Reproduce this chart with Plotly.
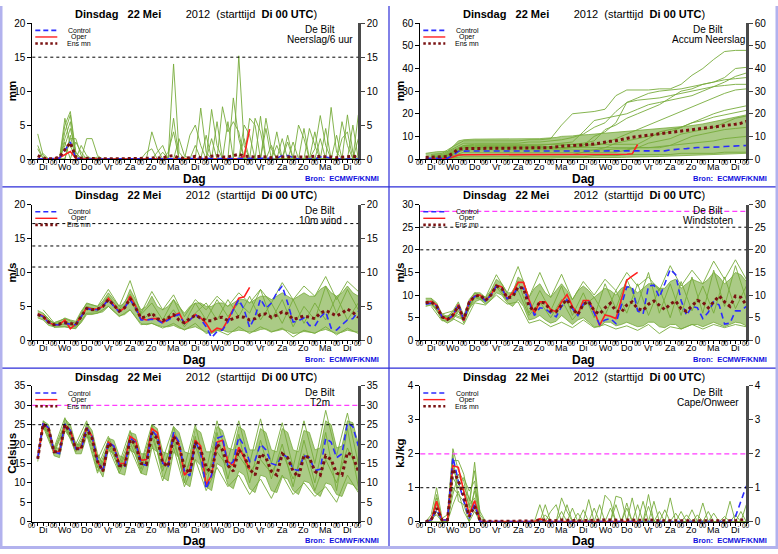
import plotly.graph_objects as go

W, H = 778, 554

# ---------------- time axis ----------------
HOURS = list(range(6, 361, 6))          # 6-hourly valid times (hours after start)
HOURS12 = list(range(12, 361, 12))      # 12-hourly valid times
OPER_HOURS = HOURS[:40]                 # operational run ends at +240h
DAY_NAMES = ["Di", "Wo", "Do", "Vr", "Za", "Zo", "Ma", "Di", "Wo", "Do", "Vr", "Za", "Zo", "Ma", "Di"]
DAY_HOURS = [12 + 24 * d for d in range(15)]
MIDNIGHTS = [24 * d for d in range(16)]

# ---------------- Neerslag / 6 uur ----------------
PCP_MEAN = [0.5, 0.1, 0.05, 0.05, 0.3, 1.4, 2.4, 0.3, 0.1, 0.1,
            0.05, 0.02, 0.02, 0.02, 0.02, 0.02, 0.02, 0.02, 0.02, 0.05,
            0.1, 0.15, 0.1, 0.15, 0.4, 0.5, 0.15, 0.1, 0.2, 0.4,
            0.2, 0.2, 0.4, 0.5, 0.3, 0.3, 0.5, 0.7, 0.4, 0.3,
            0.3, 0.4, 0.3, 0.2, 0.3, 0.3, 0.2, 0.2, 0.3, 0.3,
            0.3, 0.4, 0.4, 0.4, 0.3, 0.2, 0.3, 0.4, 0.4, 0.3]
PCP_CTRL = [0, 0, 0, 0, 0.1, 1.3, 2.5, 0.1, 0, 0,
            0, 0, 0, 0, 0, 0, 0, 0, 0, 0,
            0, 0, 0, 0, 0, 0, 0, 0, 0, 0,
            0, 0, 0, 0, 0, 0, 0, 0, 0, 0,
            0, 0, 0, 0, 0.1, 0.5, 0.5, 0.2, 0, 0,
            0, 0, 0.3, 0.3, 0.1, 0, 0, 0, 0, 0]
PCP_OPER = [0, 0, 0, 0, 0.2, 0.7, 1.1, 0.1, 0, 0,
            0, 0, 0, 0, 0, 0, 0, 0, 0, 0,
            0, 0, 0, 0, 0, 0, 0, 0, 0, 0,
            0, 0, 0, 0, 0, 0, 0, 0, 0.4, 4.4]
PCP_M1 = [3.7, 0.5, 0, 0, 0, 5.0, 7.0, 1.0, 0, 0,
          0, 0, 0, 0, 0, 0, 0, 0, 0, 0,
          0, 0, 0, 0, 0, 14.0, 1.0, 0, 0, 0,
          0, 0, 0, 0, 0, 0, 0, 15.2, 2.0, 0,
          0, 6.3, 0, 0, 0, 0, 0, 0, 0, 0,
          0, 1.5, 6.4, 2.0, 0, 0, 0, 0, 0, 0]
PCP_M2 = [1.5, 0, 0, 0, 0, 4.0, 6.5, 0.5, 0, 3.0,
          3.0, 0.5, 0, 0, 0, 0, 0, 0, 0, 0,
          0, 0, 0, 0, 0, 6.0, 0, 0, 0, 0,
          7.5, 1.0, 0, 0, 0, 0, 0, 0, 0, 0,
          6.0, 4.0, 0, 0, 0, 0, 0, 0, 0, 0,
          0, 0, 0, 0, 7.6, 1.0, 0, 0, 0, 0]
PCP_M3 = [0, 0.8, 0, 0, 0, 3.0, 5.5, 0, 2.0, 0.5,
          0, 0, 0, 0, 0, 0, 0, 0, 0, 0,
          0, 4.0, 1.5, 0, 0, 0, 0, 0, 0, 0,
          0, 0, 7.3, 2.0, 0, 0, 0, 0, 0, 0,
          0, 0, 6.0, 1.5, 0, 0, 0, 0, 0, 0,
          0, 0, 0, 0, 0, 0, 0, 6.5, 1.0, 0]
PCP_M4 = [2.0, 0, 0, 0, 0, 2.0, 4.5, 1.0, 0, 0,
          0, 0, 0, 0, 0, 0, 0, 0, 0, 0,
          0, 0, 0, 0, 1.0, 4.0, 0, 0, 0, 0,
          0, 0, 0, 0, 7.7, 4.0, 5.5, 4.0, 0, 0,
          0, 0, 0, 0, 0, 0, 3.5, 0, 0, 0,
          4.5, 2.0, 0, 0, 0, 0, 0, 0, 0, 6.5]
PCP_M5 = [0, 0, 0, 0, 0, 0, 3.0, 3.0, 0.5, 0,
          0, 0, 0, 0, 0, 0, 0, 0, 0, 0,
          0, 0, 1.0, 2.0, 0, 0, 0, 0, 3.5, 5.0,
          2.0, 0, 0, 0, 0, 0, 9.0, 3.0, 0, 0,
          0, 0, 0, 0, 0, 3.0, 0, 0, 5.0, 3.0,
          0, 0, 0, 0, 0, 0, 5.5, 2.0, 0, 0]
PCP_M6 = [0, 0, 0, 0, 0, 6.0, 2.0, 0, 0, 0,
          0, 0.3, 0, 0, 0, 0, 0, 0, 0, 0,
          0, 0, 0, 0, 0, 0, 3.0, 0.5, 0, 0,
          0, 3.5, 0, 5.5, 0, 0, 0, 0, 5.0, 3.5,
          0, 0, 0, 0, 4.0, 0, 0, 2.5, 0, 0,
          0, 0, 0, 4.5, 0, 0, 0, 0, 5.0, 0]
PCP_M7 = [0, 0, 0, 0, 0, 0, 3.5, 0, 0, 0,
          0, 0, 0, 0, 0, 0, 0, 0, 0, 0,
          1.0, 1.5, 0, 0, 0, 0, 0, 0, 0, 2.0,
          0, 0, 0, 0, 0, 5.5, 0, 0, 0, 6.0,
          5.0, 0, 0, 2.0, 0, 0, 0, 0, 0, 4.5,
          0, 0, 3.0, 0, 0, 3.5, 0, 0, 0, 3.0]
PCP_M8 = [0, 0, 0, 0, 0, 2.5, 0, 2.5, 1.0, 0,
          0, 0, 0, 0, 0, 0, 0, 0, 0, 0,
          0, 0, 0, 1.0, 0, 0, 0, 0, 0, 0,
          0, 0, 3.0, 0, 0, 0, 0, 0, 3.0, 0,
          0, 0, 4.5, 0, 2.0, 0, 2.5, 0, 0, 0,
          0, 4.0, 0, 0, 0, 0, 3.0, 4.0, 0, 0]

# ---------------- Accum Neerslag ----------------
ACC_MEAN = [0.7, 0.8, 0.8, 0.8, 1.1, 2.5, 4.4, 4.6, 4.7, 4.7,
            4.7, 4.7, 4.7, 4.7, 4.7, 4.7, 4.7, 4.7, 4.7, 4.7,
            4.8, 4.9, 5.0, 5.1, 5.4, 5.8, 5.9, 5.9, 6.0, 6.3,
            6.5, 6.6, 7.0, 7.5, 7.8, 8.1, 8.6, 9.3, 9.6, 9.9,
            10.2, 10.6, 10.9, 11.1, 11.4, 11.7, 11.9, 12.1, 12.4, 12.7,
            13.0, 13.4, 13.8, 14.2, 14.5, 14.7, 15.0, 15.4, 15.8, 16.6]
ACC_CTRL = [0.3, 0.3, 0.3, 0.3, 0.4, 1.5, 3.4, 3.5, 3.5, 3.5,
            3.5, 3.5, 3.5, 3.5, 3.5, 3.5, 3.5, 3.5, 3.5, 3.5,
            3.5, 3.5, 3.5, 3.5, 3.5, 3.5, 3.5, 3.5, 3.5, 3.5,
            3.5, 3.5, 3.5, 3.5, 3.5, 3.5, 3.5, 3.5, 3.5, 3.5,
            3.5, 3.5, 3.5, 3.5, 3.6, 4.0, 4.4, 4.5, 4.6, 5.0,
            5.1, 5.1, 5.1, 5.2, 5.3, 5.5, 5.7, 5.8, 5.9, 6.0]
ACC_OPER = [0, 0, 0, 0, 0.2, 0.9, 1.8, 1.9, 1.9, 1.9,
            1.9, 1.9, 1.9, 1.9, 1.9, 1.9, 1.9, 1.9, 1.9, 1.9,
            1.9, 1.9, 1.9, 1.9, 1.9, 1.9, 1.9, 1.9, 1.9, 1.9,
            1.9, 1.9, 1.9, 1.9, 2.0, 2.0, 2.0, 2.1, 2.3, 6.4]
ACC_LO = [0, 0, 0, 0, 0, 0, 0.2, 0.3, 0.3, 0.3,
          0.3, 0.3, 0.3, 0.3, 0.3, 0.3, 0.3, 0.3, 0.3, 0.3,
          0.3, 0.3, 0.3, 0.3, 0.4, 0.4, 0.4, 0.4, 0.4, 0.5,
          0.5, 0.5, 0.6, 0.6, 0.6, 0.7, 0.7, 0.8, 0.8, 0.9,
          0.9, 1.0, 1.0, 1.1, 1.2, 1.3, 1.4, 1.5, 1.6, 1.7,
          1.8, 1.9, 2.0, 2.1, 2.2, 2.3, 2.4, 2.5, 2.5, 2.5]
ACC_HI = [2.5, 3.0, 3.2, 3.3, 3.5, 5.5, 8.0, 8.5, 8.8, 8.8,
          8.8, 8.8, 8.8, 8.8, 8.8, 8.8, 8.8, 8.8, 8.8, 8.8,
          9.0, 9.0, 9.2, 9.2, 9.5, 10.0, 10.0, 10.2, 10.5, 10.5,
          10.8, 11.0, 11.2, 11.5, 11.5, 11.8, 12.0, 12.2, 12.5, 12.5,
          12.8, 13.0, 13.0, 13.2, 13.5, 13.8, 14.0, 14.2, 14.5, 14.8,
          15.0, 15.5, 16.0, 16.5, 17.0, 17.5, 18.0, 18.5, 19.0, 19.5]
ACC_M1 = [2.0, 2.5, 5.5, 8.0, 8.0, 8.0, 8.0, 8.0, 8.0, 8.5, 8.5, 9.0, 15.0, 20.0, 20.5,
          21.0, 22.0, 28.0, 30.5, 30.5, 30.5, 31.0, 31.0, 33.0, 37.0, 40.0, 44.0, 47.5, 48.0, 48.0]
ACC_M2 = [1.5, 2.0, 4.5, 7.0, 7.0, 7.0, 7.0, 7.0, 7.0, 7.5, 7.5, 8.0, 8.5, 9.5, 11.0,
          14.0, 16.0, 21.0, 25.0, 27.0, 29.0, 30.0, 30.5, 31.0, 32.0, 33.0, 34.0, 36.0, 40.0, 40.5]
ACC_M3 = [1.0, 1.5, 4.0, 6.0, 6.0, 6.0, 6.0, 6.0, 6.0, 6.0, 6.0, 6.5, 7.0, 7.5, 12.0,
          17.0, 18.0, 19.0, 20.0, 22.0, 24.0, 25.0, 26.0, 27.0, 28.0, 30.0, 32.0, 34.0, 36.5, 38.0]
ACC_M4 = [0.5, 1.0, 3.5, 5.5, 5.5, 5.5, 5.5, 5.5, 5.5, 5.5, 5.5, 5.5, 6.0, 6.5, 7.0,
          8.0, 13.0, 15.0, 18.0, 20.0, 22.0, 24.0, 27.0, 30.0, 31.0, 33.0, 34.0, 35.0, 35.5, 36.0]
ACC_M5 = [1.0, 1.2, 3.0, 5.0, 5.0, 5.0, 5.0, 5.0, 5.0, 5.0, 5.0, 5.0, 5.0, 5.5, 6.0,
          10.0, 12.0, 16.0, 25.0, 26.0, 26.5, 27.0, 28.0, 29.0, 30.0, 31.0, 32.0, 32.5, 33.0, 33.0]
ACC_M6 = [0.3, 0.5, 2.5, 4.5, 4.5, 4.5, 4.5, 4.5, 4.5, 4.5, 4.5, 4.5, 4.5, 5.0, 5.5,
          6.0, 7.0, 9.0, 11.0, 13.0, 15.0, 17.0, 19.0, 21.0, 23.0, 25.0, 27.0, 29.0, 30.5, 31.0]
ACC_M7 = [0.2, 0.4, 2.0, 4.0, 4.0, 4.0, 4.0, 4.0, 4.0, 4.0, 4.0, 4.0, 4.0, 4.0, 4.0,
          4.0, 5.0, 7.0, 8.0, 9.0, 10.0, 11.0, 12.0, 14.0, 16.0, 18.0, 20.0, 21.5, 22.5, 23.5]
ACC_M8 = [0.5, 0.6, 3.0, 6.0, 6.5, 6.5, 6.5, 6.5, 6.5, 6.5, 6.5, 6.5, 6.5, 6.5, 6.5,
          6.5, 6.5, 6.5, 6.5, 6.5, 9.0, 12.0, 13.0, 14.0, 16.0, 17.0, 18.5, 19.5, 20.5, 21.5]
ACC_M9 = [0.0, 0.2, 1.5, 3.0, 3.0, 3.0, 3.0, 3.0, 3.0, 3.0, 3.0, 3.0, 3.0, 3.0, 3.0,
          3.0, 3.0, 3.0, 4.0, 5.0, 7.0, 8.0, 9.0, 11.0, 12.0, 13.0, 14.0, 16.0, 18.0, 19.0]
ACC_M10 = [0.5, 0.8, 2.5, 5.0, 5.0, 5.0, 5.0, 5.0, 5.0, 5.0, 5.0, 5.0, 5.0, 5.0, 5.0,
           5.0, 5.0, 5.0, 5.0, 5.0, 5.0, 5.0, 6.0, 8.0, 10.0, 11.0, 12.0, 13.0, 13.5, 14.0]
ACC_M11 = [0.2, 0.3, 1.0, 2.0, 2.0, 2.0, 2.0, 2.0, 2.0, 2.0, 2.0, 2.0, 2.0, 2.0, 3.0,
           4.0, 4.0, 4.5, 4.5, 5.0, 5.0, 5.5, 6.0, 6.5, 7.0, 7.5, 8.0, 9.0, 9.5, 10.0]
ACC_M12 = [0.0, 0.0, 0.5, 1.0, 1.0, 1.0, 1.0, 1.0, 1.0, 1.0, 1.0, 1.0, 1.0, 1.0, 1.0,
           1.5, 1.5, 1.5, 2.0, 2.0, 2.0, 2.0, 2.0, 2.5, 2.5, 2.5, 2.5, 3.0, 3.0, 3.0]

# ---------------- 10m wind ----------------
WND_MEAN = [3.8, 3.5, 2.7, 2.3, 2.4, 2.6, 2.5, 2.3, 3.5, 4.7,
            4.5, 4.6, 5.0, 6.0, 5.2, 4.3, 4.8, 6.2, 4.8, 3.3,
            3.5, 4.0, 3.2, 2.9, 3.3, 3.8, 3.0, 2.6, 3.2, 3.7,
            3.3, 2.9, 2.9, 3.3, 3.4, 2.9, 3.2, 3.5, 3.4, 3.0,
            3.2, 3.8, 3.9, 3.4, 3.7, 4.2, 3.9, 3.1, 3.3, 3.6,
            3.4, 3.2, 4.0, 4.4, 4.0, 3.6, 4.0, 4.6, 4.1, 3.4]
WND_CTRL = [3.8, 3.5, 2.6, 2.3, 2.3, 2.5, 2.4, 2.3, 3.5, 4.7,
            4.5, 4.5, 5.0, 6.0, 5.0, 4.2, 4.8, 6.0, 4.8, 3.0,
            3.0, 3.1, 3.0, 2.5, 3.0, 3.5, 3.8, 2.5, 3.0, 3.8,
            3.1, 2.0, 0.4, 1.3, 1.5, 2.7, 4.5, 6.0, 4.5, 1.9,
            3.5, 6.1, 4.7, 5.5, 7.0, 8.0, 5.5, 2.7, 2.9, 3.3,
            2.2, 2.1, 3.4, 4.2, 1.8, 1.5, 2.3, 3.0, 3.2, 4.3]
WND_OPER = [3.9, 3.6, 2.6, 2.3, 2.3, 3.0, 1.7, 2.4, 3.5, 4.8,
            4.6, 4.6, 5.0, 6.2, 5.2, 4.2, 4.8, 6.5, 5.0, 3.2,
            3.0, 3.2, 3.2, 2.6, 3.2, 3.6, 4.0, 2.5, 3.0, 3.8,
            3.3, 2.5, 1.2, 1.8, 1.6, 3.0, 4.5, 6.2, 6.4, 7.8]
WND_LO = [3.3, 3.0, 2.2, 2.0, 2.0, 2.0, 1.8, 1.8, 2.6, 3.8,
          3.8, 4.0, 4.2, 5.0, 4.3, 3.6, 3.8, 4.5, 3.5, 2.5,
          2.3, 2.5, 2.2, 2.0, 2.0, 2.2, 1.8, 1.6, 1.8, 2.0,
          1.6, 1.2, 1.0, 1.4, 1.5, 1.2, 1.3, 1.5, 1.4, 1.2,
          1.3, 1.6, 1.7, 1.3, 1.4, 1.6, 1.4, 1.0, 1.1, 1.3,
          1.2, 1.1, 1.4, 1.6, 1.3, 1.0, 1.2, 1.5, 1.3, 1.2]
WND_HI = [4.4, 4.0, 3.0, 2.6, 2.8, 3.3, 3.0, 2.8, 4.3, 5.4,
          5.2, 5.0, 5.8, 7.0, 6.0, 5.0, 5.5, 7.5, 6.0, 4.5,
          5.0, 6.5, 5.0, 4.5, 5.0, 6.0, 5.0, 4.0, 5.0, 5.5,
          5.5, 5.0, 5.0, 5.5, 5.5, 5.0, 5.5, 6.0, 6.0, 5.5,
          6.0, 6.5, 6.5, 6.0, 6.5, 7.0, 6.5, 6.0, 6.5, 7.0,
          6.5, 6.5, 7.5, 8.0, 7.0, 6.5, 7.0, 8.0, 7.0, 6.5]
WND_M1 = [4.5, 2.6, 3.2, 2.5, 5.5, 5.0, 7.5, 5.0, 8.8, 4.0, 7.2, 4.5, 6.7, 3.5, 6.0,
          4.5, 6.5, 5.0, 7.0, 5.5, 7.5, 5.5, 8.5, 6.0, 8.0, 6.5, 9.4, 6.0, 8.7, 7.2]
WND_M2 = [3.5, 1.9, 2.0, 1.7, 4.0, 4.0, 5.0, 3.5, 4.5, 2.3, 2.5, 1.8, 2.5, 1.5, 2.5,
          1.0, 1.5, 0.8, 2.0, 1.0, 2.0, 1.2, 1.8, 0.5, 1.5, 1.0, 2.0, 0.8, 1.8, 1.0]
WND_M3 = [4.0, 2.4, 2.8, 2.2, 5.0, 4.5, 6.5, 4.6, 6.8, 3.8, 5.5, 3.0, 6.0, 2.5, 5.5,
          3.0, 6.0, 3.5, 5.5, 4.0, 7.5, 3.0, 6.0, 2.0, 5.0, 3.0, 8.0, 4.0, 7.5, 4.5]
WND_M4 = [3.6, 2.2, 2.4, 2.0, 4.6, 4.2, 6.0, 4.4, 6.0, 3.0, 4.0, 2.6, 4.5, 2.0, 4.0,
          5.5, 3.0, 6.0, 3.5, 6.5, 3.0, 5.5, 2.5, 6.0, 2.5, 5.5, 3.0, 6.5, 3.0, 5.5]

# ---------------- Windstoten ----------------
GST_MEAN = [8.3, 8.5, 7.5, 5.2, 4.6, 5.6, 7.6, 4.6, 8.4, 9.7,
            10.0, 8.8, 10.0, 12.0, 11.5, 9.4, 9.6, 11.8, 11.5, 7.5,
            6.5, 8.5, 8.2, 6.5, 6.3, 7.8, 9.0, 7.0, 5.7, 8.0,
            8.6, 6.5, 5.8, 7.2, 8.2, 6.5, 6.2, 7.8, 8.5, 7.0,
            6.6, 8.0, 8.7, 7.7, 6.8, 8.0, 8.7, 7.0, 6.4, 7.6,
            8.8, 8.4, 7.2, 8.5, 9.8, 8.5, 7.5, 9.8, 9.5, 7.8]
GST_CTRL = [8.0, 8.2, 7.6, 5.2, 4.6, 5.5, 8.0, 4.5, 8.3, 9.7,
            10.0, 8.7, 10.0, 12.0, 11.5, 9.2, 9.8, 11.8, 11.5, 8.5,
            5.5, 7.2, 7.0, 6.0, 5.2, 7.5, 9.0, 7.0, 5.5, 8.0,
            8.5, 6.0, 3.5, 4.5, 4.8, 3.7, 7.5, 11.8, 11.8, 6.5,
            5.8, 12.0, 12.2, 9.5, 12.5, 15.7, 14.5, 8.8, 5.5, 7.5,
            7.2, 4.8, 6.2, 8.5, 7.8, 3.6, 3.8, 6.5, 6.5, 7.5]
GST_OPER = [8.3, 8.6, 7.8, 5.3, 4.6, 5.3, 7.9, 4.3, 8.5, 9.8,
            10.0, 8.8, 10.0, 12.2, 11.8, 9.2, 10.5, 12.8, 12.8, 9.0,
            6.0, 8.5, 8.5, 6.8, 6.3, 8.5, 10.1, 7.5, 5.8, 8.8,
            8.8, 6.5, 3.3, 5.6, 5.3, 4.8, 9.0, 13.3, 14.2, 15.0]
GST_LO = [7.5, 7.8, 6.8, 4.5, 3.8, 4.5, 6.5, 3.8, 7.0, 8.5,
          9.0, 8.0, 9.0, 10.5, 10.0, 8.3, 7.5, 9.0, 7.5, 4.5,
          4.8, 5.5, 4.5, 3.8, 4.2, 5.5, 4.5, 3.5, 4.5, 5.0,
          4.0, 3.0, 3.0, 4.0, 4.0, 3.2, 3.5, 4.0, 3.5, 3.0,
          3.2, 4.0, 4.0, 3.0, 2.8, 3.5, 3.5, 2.5, 3.0, 3.5,
          3.5, 3.0, 3.5, 4.0, 3.5, 3.0, 3.5, 4.0, 3.8, 3.2]
GST_HI = [9.3, 9.3, 8.3, 5.8, 5.3, 6.5, 8.5, 5.5, 9.0, 10.5,
          10.5, 9.5, 11.0, 13.5, 12.5, 10.5, 10.5, 14.0, 13.0, 9.5,
          11.5, 12.5, 10.5, 9.5, 11.0, 12.5, 11.0, 9.0, 11.0, 12.0,
          11.0, 9.5, 10.5, 11.5, 11.0, 10.0, 11.5, 12.0, 11.5, 10.5,
          11.5, 12.5, 12.5, 11.5, 11.5, 13.0, 13.5, 11.5, 12.5, 13.5,
          13.0, 12.5, 13.5, 15.0, 14.0, 12.5, 13.5, 15.0, 14.5, 13.0]
GST_M1 = [9.3, 5.8, 6.5, 5.0, 10.5, 9.5, 14.5, 10.5, 16.3, 9.5, 15.0, 9.5, 14.6, 9.0, 13.0,
          10.0, 13.5, 11.0, 15.0, 12.0, 14.0, 11.0, 16.5, 12.0, 15.5, 12.5, 17.5, 13.5, 17.8, 13.5]
GST_M2 = [7.5, 4.3, 4.8, 3.5, 8.3, 7.8, 10.0, 8.0, 8.5, 3.8, 4.5, 3.0, 4.0, 2.8, 4.5,
          2.8, 3.5, 2.5, 3.2, 2.2, 3.5, 1.5, 3.0, 2.5, 3.5, 2.5, 3.5, 2.8, 3.5, 3.0]
GST_M3 = [8.5, 5.0, 5.8, 4.8, 9.8, 8.8, 12.5, 9.0, 13.0, 6.0, 11.0, 6.5, 12.0, 5.5, 10.5,
          5.0, 12.5, 7.0, 13.5, 8.0, 15.0, 6.0, 12.5, 5.5, 14.0, 6.0, 15.5, 7.5, 16.5, 9.0]
GST_M4 = [8.2, 4.8, 5.5, 4.5, 9.5, 8.6, 11.8, 8.8, 11.0, 5.5, 8.5, 5.0, 9.0, 4.5, 7.5,
          9.5, 5.5, 11.0, 6.0, 12.5, 5.5, 11.5, 5.0, 13.0, 6.5, 12.0, 6.0, 14.0, 7.0, 12.0]

# ---------------- T2m ----------------
T2M_MEAN = [16.2, 25.2, 23.8, 18.0, 18.0, 25.0, 23.0, 18.8, 18.8, 24.0,
            21.5, 15.5, 13.0, 20.2, 19.0, 14.5, 14.2, 21.2, 20.0, 15.0,
            14.8, 22.8, 21.5, 15.2, 14.2, 22.0, 19.5, 14.0, 12.5, 20.5,
            18.5, 14.0, 12.5, 20.0, 18.5, 14.5, 13.0, 18.5, 17.0, 13.5,
            12.0, 17.5, 16.5, 13.0, 12.0, 17.5, 16.5, 13.0, 11.5, 17.0,
            16.5, 13.0, 12.0, 17.0, 16.0, 12.5, 12.0, 17.8, 17.0, 13.0]
T2M_CTRL = [16.2, 25.5, 24.2, 18.0, 17.5, 25.2, 23.5, 18.8, 18.5, 24.2,
            22.0, 15.8, 13.0, 20.5, 19.5, 14.5, 14.0, 21.5, 20.5, 15.0,
            14.5, 23.5, 22.0, 15.0, 14.3, 23.0, 20.5, 13.0, 11.8, 20.8,
            17.5, 8.4, 12.0, 21.5, 22.0, 14.3, 15.5, 21.8, 19.5, 15.5,
            15.8, 20.0, 18.5, 15.0, 14.5, 17.5, 16.5, 13.5, 13.2, 17.0,
            16.5, 13.2, 13.5, 21.5, 20.5, 16.5, 17.5, 25.5, 24.5, 19.5]
T2M_OPER = [16.2, 25.3, 24.0, 18.0, 18.0, 25.0, 23.5, 19.0, 19.0, 24.3,
            22.0, 15.5, 13.0, 20.5, 19.5, 15.0, 15.0, 22.0, 21.0, 15.8,
            16.0, 24.0, 23.0, 15.5, 14.5, 22.5, 20.0, 12.0, 13.5, 21.0,
            19.5, 9.5, 12.0, 20.5, 21.0, 15.5, 14.5, 19.2, 16.5, 13.5]
T2M_LO = [15.5, 24.0, 23.0, 17.0, 16.5, 23.5, 21.5, 17.5, 17.5, 22.0,
          20.0, 14.0, 11.5, 18.5, 17.5, 12.5, 12.0, 18.5, 17.5, 12.5,
          12.0, 19.0, 18.0, 11.5, 10.5, 18.0, 16.5, 10.0, 9.0, 16.0,
          14.5, 9.0, 8.0, 15.0, 14.0, 9.5, 8.5, 13.0, 12.0, 8.5,
          7.5, 12.0, 11.5, 8.0, 7.5, 11.5, 11.0, 8.0, 7.0, 10.5,
          10.0, 7.5, 6.5, 10.0, 9.5, 7.0, 6.5, 10.0, 9.5, 8.0]
T2M_HI = [17.0, 26.0, 25.0, 19.0, 19.0, 26.5, 25.0, 20.0, 20.0, 25.5,
          23.5, 17.5, 15.0, 21.5, 21.0, 17.0, 16.5, 23.0, 22.5, 17.5,
          17.5, 25.0, 24.0, 18.0, 17.5, 24.5, 23.0, 18.0, 17.5, 24.0,
          23.0, 18.0, 18.0, 24.5, 23.5, 19.0, 18.5, 24.5, 23.5, 18.5,
          18.5, 24.0, 23.0, 18.5, 18.0, 24.0, 23.0, 18.5, 18.0, 23.5,
          23.0, 18.5, 19.0, 26.0, 25.0, 19.0, 19.5, 26.0, 25.5, 20.0]
T2M_M1 = [26.0, 19.0, 26.8, 20.0, 26.0, 16.0, 22.0, 15.0, 23.5, 15.0, 25.0, 16.0, 24.5, 14.0, 25.0,
          13.0, 26.0, 16.0, 26.0, 15.0, 26.5, 15.0, 25.5, 14.0, 26.0, 15.0, 28.7, 17.0, 28.0, 15.0]
T2M_M2 = [24.5, 17.5, 24.5, 18.0, 22.5, 12.5, 19.0, 12.5, 19.0, 12.5, 20.0, 10.5, 19.0, 9.0, 16.0,
          8.0, 14.0, 9.0, 12.0, 7.0, 11.0, 6.0, 12.0, 7.0, 10.0, 6.5, 9.0, 5.0, 12.0, 7.5]
T2M_M3 = [25.5, 18.5, 25.5, 19.0, 24.5, 14.0, 21.0, 14.0, 22.0, 14.5, 23.5, 13.0, 22.0, 10.0, 22.0,
          9.0, 23.0, 11.0, 22.5, 10.0, 21.0, 11.0, 20.0, 9.0, 21.0, 10.0, 23.0, 8.0, 24.0, 9.0]
T2M_M4 = [25.0, 18.0, 25.0, 18.5, 23.5, 13.0, 20.0, 13.5, 20.5, 13.5, 22.0, 14.0, 20.5, 12.0, 19.5,
          12.0, 18.0, 14.0, 17.0, 13.0, 16.0, 12.5, 18.0, 11.0, 17.5, 8.0, 16.0, 10.0, 19.0, 13.0]

# ---------------- Cape / Onweer ----------------
CAPE_MEAN = [0, 0.05, 0.4, 0.05, 0.05, 1.55, 1.2, 0.75, 0.15, 0.45,
             0.03, 0.01, 0.01, 0.01, 0.01, 0.01, 0.01, 0.01, 0.01, 0.01,
             0.02, 0.05, 0.04, 0.03, 0.03, 0.05, 0.04, 0.02, 0.03, 0.03,
             0.04, 0.03, 0.04, 0.05, 0.05, 0.04, 0.04, 0.05, 0.04, 0.03,
             0.04, 0.05, 0.03, 0.03, 0.03, 0.03, 0.02, 0.02, 0.02, 0.02,
             0.02, 0.02, 0.02, 0.02, 0.02, 0.02, 0.02, 0.03, 0.05, 0.05]
CAPE_CTRL = [0, 0.05, 0.35, 0.05, 0.05, 1.9, 1.2, 0.6, 0.1, 0.5,
             0, 0, 0, 0, 0, 0, 0, 0, 0, 0,
             0, 0, 0, 0, 0, 0, 0, 0, 0, 0,
             0, 0, 0, 0, 0, 0, 0, 0, 0, 0,
             0, 0, 0, 0, 0, 0, 0, 0, 0, 0,
             0, 0, 0, 0, 0, 0, 0, 0.15, 0.6, 1.05]
CAPE_OPER = [0, 0.05, 0.6, 0.05, 0.05, 1.65, 1.6, 0.9, 0.2, 0.62,
             0.02, 0, 0, 0, 0, 0, 0, 0, 0, 0,
             0, 0.08, 0.02, 0, 0, 0, 0, 0, 0, 0,
             0, 0, 0, 0, 0, 0, 0, 0, 0, 0]
CAPE_M1 = [0, 0.2, 1.0, 0.1, 0.2, 2.15, 1.5, 1.2, 0.4, 1.75,
           0.2, 0, 0, 0, 0, 0, 0, 0, 0, 0,
           0, 0, 0.5, 0, 0, 0, 0, 0, 0, 0,
           0.65, 0, 0, 0, 0, 0, 0, 0, 0, 0,
           0, 0.8, 0, 0, 0, 0, 0, 0, 0, 0,
           0, 0, 0, 0, 0, 0, 0.6, 0, 0, 0]
CAPE_M2 = [0, 0, 0.7, 0, 0.1, 1.8, 1.8, 1.4, 0.6, 1.5,
           0.1, 0, 0, 0, 0, 0, 0, 0, 0, 0,
           0, 0, 0, 0, 0, 0.7, 0.3, 0, 0, 0,
           0, 0, 0, 0.78, 0.6, 0, 0, 0, 0.7, 0,
           0, 0, 0, 0, 0, 0.7, 0, 0, 0, 0,
           0, 0.55, 0, 0, 0, 0, 0, 0, 0, 0]
CAPE_M3 = [0, 0, 0.5, 0, 0, 1.3, 1.0, 1.3, 0.9, 1.2,
           0, 0, 0, 0, 0, 0, 0, 0, 0, 0,
           0, 0, 0, 0.3, 0.5, 0, 0, 0, 0, 0,
           0, 0.4, 0, 0, 0, 0.75, 0.7, 0, 0, 0,
           0, 0, 0.6, 0, 0, 0, 0, 0, 0, 0.35,
           0, 0, 0, 0, 0, 0, 0, 0, 0, 0.5]
CAPE_M4 = [0, 0, 0.3, 0, 0, 1.0, 0.8, 0.6, 0.3, 0.9,
           0, 0, 0, 0, 0, 0, 0, 0, 0, 0,
           0, 0.5, 0, 0, 0, 0, 0, 0.4, 0, 0,
           0, 0, 0.5, 0, 0, 0, 0, 0, 0, 0.5,
           0, 0, 0, 0.3, 0, 0, 0, 0.3, 0, 0,
           0, 0, 0, 0.25, 0, 0, 0, 0, 0, 0]
CAPE_M5 = [0, 0, 0.8, 0, 0, 1.6, 1.1, 0.9, 0.5, 0.7,
           0, 0, 0, 0, 0, 0, 0, 0, 0, 0,
           0, 0, 0.2, 0, 0, 0, 0.5, 0, 0, 0,
           0, 0, 0, 0, 0, 0, 0, 0.4, 0, 0,
           0.6, 0, 0, 0, 0.35, 0, 0, 0, 0, 0,
           0, 0, 0.3, 0, 0, 0, 0, 0, 0.3, 0]
CAPE_M6 = [0, 0.1, 0.2, 0, 0, 0.8, 1.4, 1.0, 0.7, 0.4,
           0, 0, 0, 0, 0, 0, 0, 0, 0, 0,
           0, 0, 0, 0, 0, 0.3, 0, 0, 0, 0,
           0, 0, 0, 0, 0.4, 0, 0, 0, 0, 0,
           0, 0.45, 0, 0, 0, 0, 0, 0, 0.2, 0,
           0, 0, 0, 0, 0, 0.15, 0, 0, 0, 0]
CAPE_M7 = [0, 0, 0.6, 0, 0, 2.0, 0.6, 0.5, 0, 1.0,
           0.3, 0, 0, 0, 0, 0, 0, 0, 0, 0,
           0, 0, 0, 0, 0, 0, 0, 0, 0, 0.35,
           0, 0, 0, 0, 0, 0, 0, 0.55, 0, 0,
           0, 0, 0, 0, 0, 0, 0.25, 0, 0, 0,
           0, 0, 0, 0, 0, 0, 0, 0, 0, 0]
CAPE_M8 = [0, 0, 0, 0, 0, 0.5, 0.9, 0.3, 0, 0.3,
           0, 0, 0, 0, 0, 0, 0, 0, 0, 0,
           0, 0, 0, 0, 0, 0, 0, 0, 0.25, 0,
           0, 0, 0, 0, 0, 0.5, 0, 0, 0, 0,
           0, 0, 0, 0, 0, 0, 0, 0, 0, 0,
           0.2, 0, 0, 0, 0, 0, 0, 0.2, 0, 0]

# ---------------- panel definitions ----------------
PANELS = [
    dict(name="Neerslag/6 uur", unit="mm", ymax=20, dtick=5,
         mean=PCP_MEAN, ctrl=PCP_CTRL, oper=PCP_OPER, lo=None, hi=None,
         members=[PCP_M1, PCP_M2, PCP_M3, PCP_M4, PCP_M5, PCP_M6, PCP_M7, PCP_M8], mhours=HOURS,
         dotted=[15], magenta=[]),
    dict(name="Accum Neerslag", unit="mm", ymax=60, dtick=10,
         mean=ACC_MEAN, ctrl=ACC_CTRL, oper=ACC_OPER, lo=ACC_LO, hi=ACC_HI,
         members=[ACC_M1, ACC_M2, ACC_M3, ACC_M4, ACC_M5, ACC_M6, ACC_M7, ACC_M8, ACC_M9,
                  ACC_M10, ACC_M11, ACC_M12], mhours=HOURS12,
         dotted=[], magenta=[]),
    dict(name="10m wind", unit="m/s", ymax=20, dtick=5,
         mean=WND_MEAN, ctrl=WND_CTRL, oper=WND_OPER, lo=WND_LO, hi=WND_HI,
         members=[WND_M1, WND_M2, WND_M3, WND_M4], mhours=HOURS12,
         dotted=[10.8, 13.9, 17.2], magenta=[]),
    dict(name="Windstoten", unit="m/s", ymax=30, dtick=5,
         mean=GST_MEAN, ctrl=GST_CTRL, oper=GST_OPER, lo=GST_LO, hi=GST_HI,
         members=[GST_M1, GST_M2, GST_M3, GST_M4], mhours=HOURS12,
         dotted=[20, 25], magenta=[28.5]),
    dict(name="T2m", unit="Celsius", ymax=35, dtick=5,
         mean=T2M_MEAN, ctrl=T2M_CTRL, oper=T2M_OPER, lo=T2M_LO, hi=T2M_HI,
         members=[T2M_M1, T2M_M2, T2M_M3, T2M_M4], mhours=HOURS12,
         dotted=[25], magenta=[30]),
    dict(name="Cape/Onweer", unit="kJ/kg", ymax=4, dtick=1,
         mean=CAPE_MEAN, ctrl=CAPE_CTRL, oper=CAPE_OPER, lo=None, hi=None,
         members=[CAPE_M1, CAPE_M2, CAPE_M3, CAPE_M4, CAPE_M5, CAPE_M6, CAPE_M7, CAPE_M8], mhours=HOURS,
         dotted=[1], magenta=[2]),
]

# ---------------- styling / layout geometry (pixels) ----------------
FONT = "Liberation Sans, Arial, Helvetica, sans-serif"
GREEN = "#77ab3b"
GREEN_FILL = "rgba(119,171,59,0.62)"
MEAN_C = "#7a1212"
CTRL_C = "#2b2bff"
OPER_C = "#ff1f1f"
MAG_C = "#ff3cff"
SEP_C = "#2d2dd8"
EDGE_C = "#b2b2ee"
PANEL_ORIGINS = [(0, 0), (388, 0), (0, 185), (388, 185), (0, 370), (388, 370)]
PLOT_W, PLOT_H = 326.0, 138.5
PLOT_OFF = (32.3, 17.6)
NB = "\u00a0"
TITLE = (f"<b>Dinsdag{NB*3}22 Mei</b>{NB*8}2012{NB*2}(starttijd{NB*2}<b>Di 00 UTC</b>)")


def px(x):
    return x / W


def py(y):
    return 1 - y / H


def aid(prefix, k):
    return prefix if k == 1 else f"{prefix}{k}"


for p in PANELS:
    assert len(p["mean"]) == 60 and len(p["ctrl"]) == 60 and len(p["oper"]) == 40, p["name"]
    for m in p["members"]:
        assert len(m) == len(p["mhours"]), p["name"]
    if p["lo"] is not None:
        assert len(p["lo"]) == 60 and len(p["hi"]) == 60, p["name"]

fig = go.Figure()
layout = dict(width=W, height=H, margin=dict(l=0, r=0, t=0, b=0, pad=0),
              paper_bgcolor="white", plot_bgcolor="rgba(0,0,0,0)", showlegend=False,
              font=dict(family=FONT, color="black"))
annotations, shapes = [], []


def ann(x, y, text, size, **kw):
    d = dict(x=px(x), y=py(y), xref="paper", yref="paper", text=text, showarrow=False,
             font=dict(family=FONT, size=size, color=kw.pop("color", "black")),
             xanchor=kw.pop("xanchor", "center"), yanchor=kw.pop("yanchor", "middle"),
             borderpad=0)
    d.update(kw)
    annotations.append(d)


for i, p in enumerate(PANELS):
    n = i + 1
    xa = aid("x", n)
    yl = aid("y", 2 * n - 1)
    yr = aid("y", 2 * n)
    ox, oy = PANEL_ORIGINS[i]
    x0, y0 = ox + PLOT_OFF[0], oy + PLOT_OFF[1]
    x1, y1 = x0 + PLOT_W, y0 + PLOT_H
    ticks = list(range(0, p["ymax"] + 1, p["dtick"]))

    layout[aid("xaxis", n)] = dict(
        domain=[px(x0), px(x1)], anchor=yl, range=[0, 360], fixedrange=True,
        tickmode="linear", tick0=0, dtick=6, showticklabels=False,
        ticks="outside", ticklen=3, tickwidth=1, tickcolor="black",
        showline=True, linecolor="black", linewidth=1, showgrid=False, zeroline=False)
    layout[aid("yaxis", 2 * n - 1)] = dict(
        domain=[py(y1), py(y0)], anchor=xa, range=[0, p["ymax"]], fixedrange=True,
        tickmode="array", tickvals=ticks, ticks="outside", ticklen=4, tickcolor="black",
        showline=True, linecolor="black", linewidth=1, showgrid=False, zeroline=False,
        tickfont=dict(family=FONT, size=10, color="black"))
    layout[aid("yaxis", 2 * n)] = dict(
        overlaying=yl, side="right", anchor=xa, range=[0, p["ymax"]], fixedrange=True,
        tickmode="array", tickvals=ticks, ticks="outside", ticklen=4, tickcolor="#444",
        showline=True, linecolor="#4a4a4a", linewidth=2.5, showgrid=False, zeroline=False,
        tickfont=dict(family=FONT, size=10, color="black"))

    # ensemble spread (dense part)
    if p["lo"] is not None:
        fig.add_trace(go.Scatter(x=HOURS, y=p["lo"], xaxis=xa, yaxis=yl, mode="lines",
                                 line=dict(color=GREEN, width=0.8), hoverinfo="skip"))
        fig.add_trace(go.Scatter(x=HOURS, y=p["hi"], xaxis=xa, yaxis=yl, mode="lines",
                                 fill="tonexty", fillcolor=GREEN_FILL,
                                 line=dict(color=GREEN, width=0.8), hoverinfo="skip"))
    # individual members
    for m in p["members"]:
        fig.add_trace(go.Scatter(x=p["mhours"], y=m, xaxis=xa, yaxis=yl, mode="lines",
                                 line=dict(color=GREEN, width=0.9), hoverinfo="skip"))
    # operational, control, ensemble mean
    fig.add_trace(go.Scatter(x=OPER_HOURS, y=p["oper"], xaxis=xa, yaxis=yl, mode="lines",
                             line=dict(color=OPER_C, width=1.6), hoverinfo="skip"))
    fig.add_trace(go.Scatter(x=HOURS, y=p["ctrl"], xaxis=xa, yaxis=yl, mode="lines",
                             line=dict(color=CTRL_C, width=1.6, dash="6px,4px"), hoverinfo="skip"))
    fig.add_trace(go.Scatter(x=HOURS, y=p["mean"], xaxis=xa, yaxis=yl, mode="lines",
                             line=dict(color=MEAN_C, width=3, dash="3px,3px"), hoverinfo="skip"))
    fig.add_trace(go.Scatter(x=[], y=[], xaxis=xa, yaxis=yr, mode="lines", hoverinfo="skip"))

    # threshold lines
    for v in p["dotted"]:
        shapes.append(dict(type="line", xref=f"{xa} domain", yref=yl, x0=0, x1=1, y0=v, y1=v,
                           line=dict(color="black", width=1, dash="dot")))
    for v in p["magenta"]:
        shapes.append(dict(type="line", xref=f"{xa} domain", yref=yl, x0=0, x1=1, y0=v, y1=v,
                           line=dict(color=MAG_C, width=1.3, dash="5px,3px")))

    # legend (top-left)
    leg = [("Control", CTRL_C, 1.6, "5px,3px"), ("Oper", OPER_C, 1.4, "solid"),
           ("Ens mn", MEAN_C, 2.6, "2.5px,2.5px")]
    for r, (lab, col, wd, ds) in enumerate(leg):
        ly = y0 + 7.3 + 6.7 * r
        shapes.append(dict(type="line", xref="paper", yref="paper",
                           x0=px(x0 + 3), x1=px(x0 + 25), y0=py(ly), y1=py(ly),
                           line=dict(color=col, width=wd, dash=ds)))
        ann(ox + 79, ly, lab, 7)

    # texts
    ann(ox + 196, oy + 8.3, TITLE, 11)
    ann(ox + 320, y0 + 6.5, "De Bilt", 10)
    ann(ox + 320, y0 + 16.5, p["name"], 10)
    ann(ox + 12, (y0 + y1) / 2, f"<b>{p['unit']}</b>", 11.5, textangle=-90)
    ann(ox + 195, oy + 176.3, "<b>Dag</b>", 12)
    ann(ox + 342, oy + 175.5, "<b>Bron:\u00a0 ECMWF/KNMI</b>", 7.5, color="#1010e0")
    for h in MIDNIGHTS:
        annotations.append(dict(x=h, xref=xa, y=py(y1 + 3.6), yref="paper", text="00",
                                showarrow=False, font=dict(family=FONT, size=6.5, color="black"),
                                xanchor="center", yanchor="middle", borderpad=0))
    for h, lab in zip(DAY_HOURS, DAY_NAMES):
        annotations.append(dict(x=h, xref=xa, y=py(y1 + 8.2), yref="paper", text=lab,
                                showarrow=False, font=dict(family=FONT, size=9, color="black"),
                                xanchor="center", yanchor="middle", borderpad=0))

# panel separators and outer edge
shapes += [
    dict(type="line", xref="paper", yref="paper", x0=px(389), x1=px(389), y0=0, y1=1,
         line=dict(color=SEP_C, width=1.2)),
    dict(type="line", xref="paper", yref="paper", x0=0, x1=1, y0=py(184.5), y1=py(184.5),
         line=dict(color=SEP_C, width=1.2)),
    dict(type="line", xref="paper", yref="paper", x0=0, x1=1, y0=py(369.5), y1=py(369.5),
         line=dict(color=SEP_C, width=1.2)),
    dict(type="line", xref="paper", yref="paper", x0=px(1), x1=px(1), y0=0, y1=1,
         line=dict(color=EDGE_C, width=3)),
    dict(type="line", xref="paper", yref="paper", x0=px(777), x1=px(777), y0=0, y1=1,
         line=dict(color=EDGE_C, width=3)),
    dict(type="line", xref="paper", yref="paper", x0=0, x1=1, y0=py(552.5), y1=py(552.5),
         line=dict(color=EDGE_C, width=3)),
]

layout["annotations"] = annotations
layout["shapes"] = shapes
fig.update_layout(**layout)
fig.write_html("out.html", config={"displayModeBar": False, "staticPlot": True},
               post_script="document.body.style.margin='0px';document.body.style.padding='0px';"
                           "document.body.style.overflow='hidden';")
